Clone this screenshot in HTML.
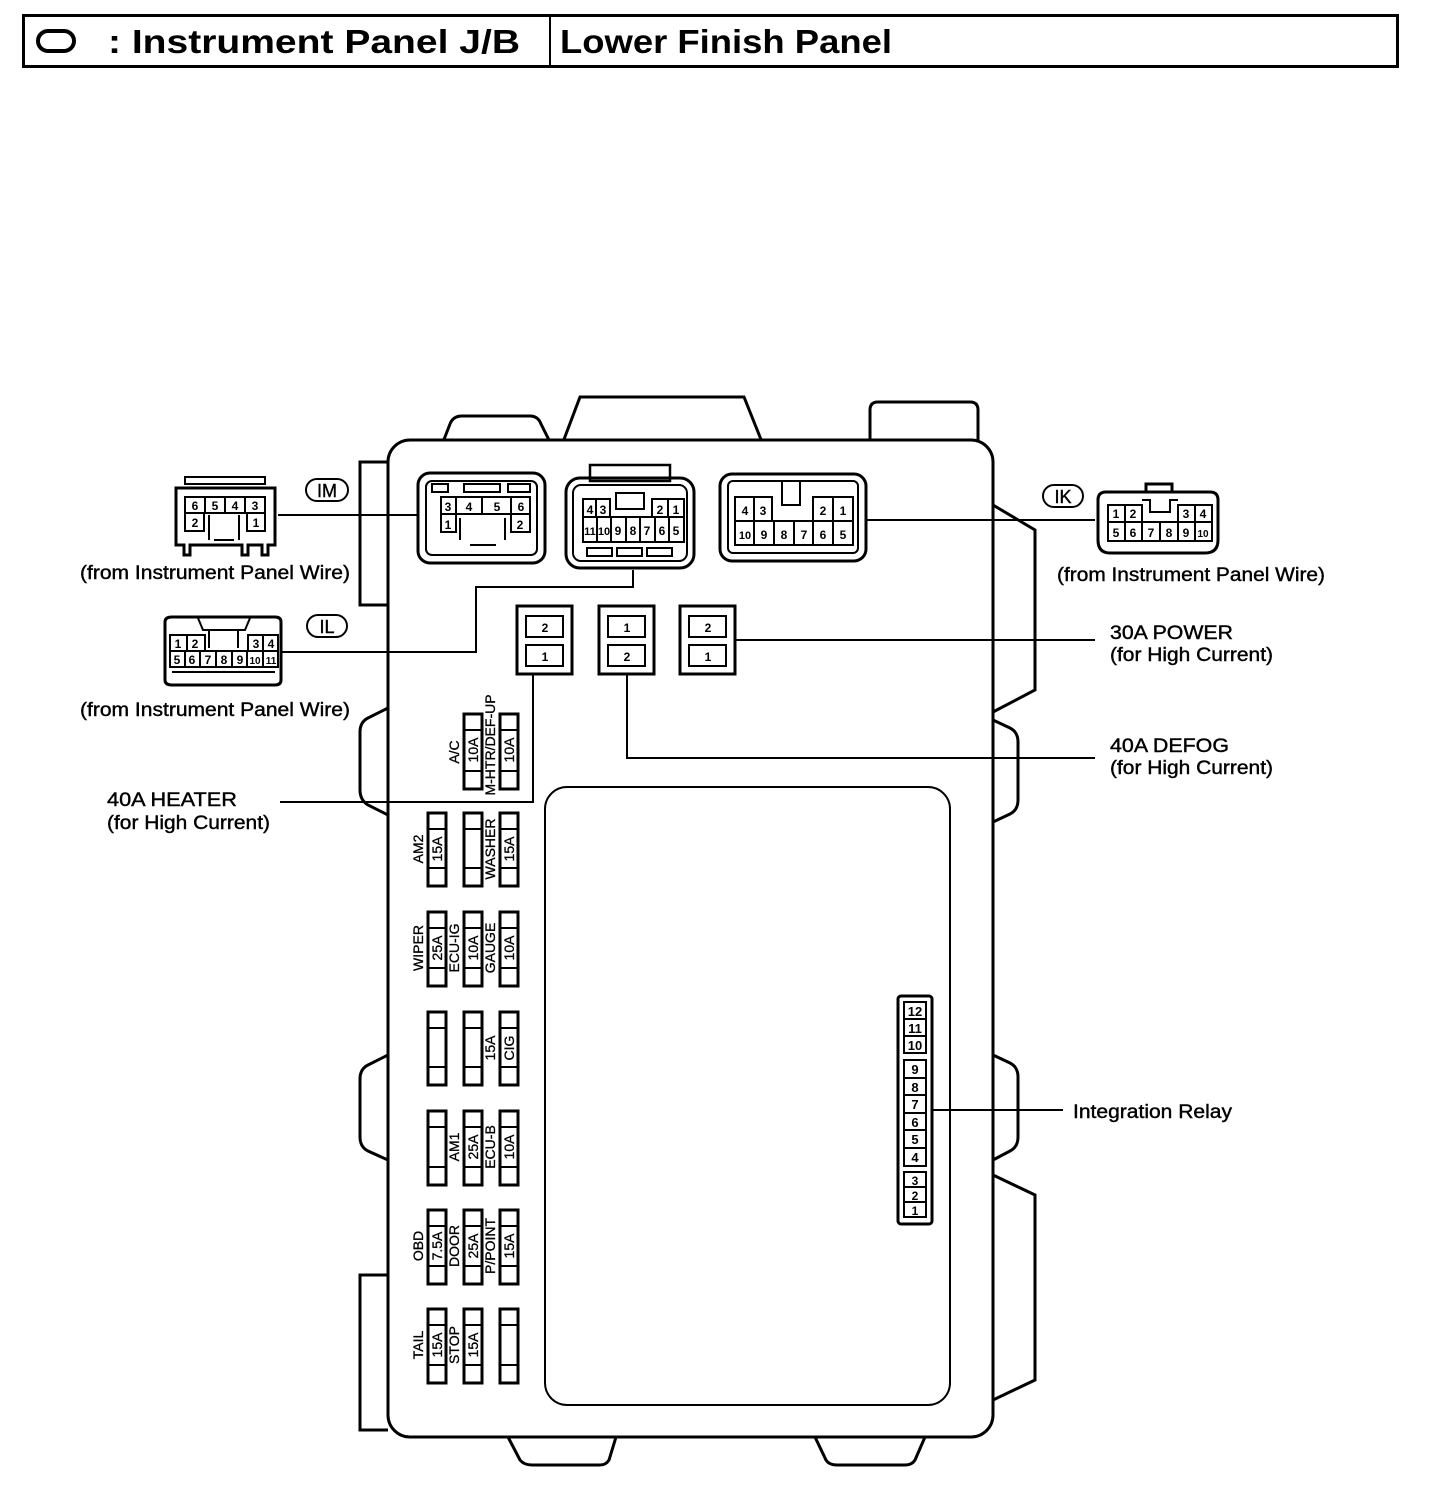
<!DOCTYPE html>
<html><head><meta charset="utf-8"><style>
html,body{margin:0;padding:0;background:#fff;}
svg{display:block;}
text{font-family:"Liberation Sans",Arial,sans-serif;fill:#000;}
.s{fill:none;stroke:#000;stroke-width:2;}
.t{fill:none;stroke:#000;stroke-width:3;}
.f{fill:#fff;stroke:#000;stroke-width:3;}
.p{font-size:12px;font-weight:bold;text-anchor:middle;}
.fl{font-size:14px;text-anchor:middle;stroke:#000;stroke-width:0.3;}
.lb{font-size:19px;stroke:#000;stroke-width:0.4;}
</style></head><body>
<svg width="1440" height="1488" viewBox="0 0 1440 1488" xmlns="http://www.w3.org/2000/svg">
<!-- header -->
<rect x="23.5" y="15.5" width="1374" height="51" class="s" style="stroke-width:3"/>
<line x1="550" y1="16" x2="550" y2="66" stroke="#000" stroke-width="2"/>
<rect x="38" y="31" width="36" height="20" rx="10" class="s" style="stroke-width:4"/>
<text x="108" y="53" style="font-size:33px;font-weight:bold" textLength="412" lengthAdjust="spacingAndGlyphs">: Instrument Panel J/B</text>
<text x="560" y="53" style="font-size:33px;font-weight:bold" textLength="332" lengthAdjust="spacingAndGlyphs">Lower Finish Panel</text>

<!-- body side brackets / tabs -->
<path d="M388 462 H360 V605 H388" class="t"/>
<path d="M388 708 L368 718 Q360 722 360 732 V790 Q360 800 368 805 L388 815" class="t"/>
<path d="M388 1055 L368 1065 Q360 1069 360 1079 V1137 Q360 1147 368 1151 L388 1160" class="t"/>
<path d="M388 1275 H360 V1430 H388" class="t"/>
<path d="M993 505 L1035 530 V690 L993 712" class="t"/>
<path d="M993 720 L1010 728 Q1018 732 1018 742 V800 Q1018 810 1010 814 L993 822" class="t"/>
<path d="M993 1055 L1010 1063 Q1018 1067 1018 1077 V1137 Q1018 1147 1010 1151 L993 1160" class="t"/>
<path d="M993 1175 L1035 1195 V1380 L993 1400" class="t"/>
<!-- top tabs -->
<path d="M443 442 L450 424 Q453 416 462 416 H530 Q538 416 541 424 L550 442" class="t"/>
<path d="M563 442 L580 397 H744 L762 442" class="t"/>
<path d="M870 442 V410 Q870 402 878 402 H970 Q978 402 978 410 V442" class="t"/>
<!-- bottom tabs -->
<path d="M508 1437 L520 1460 Q524 1465 532 1465 H600 Q606 1465 609 1460 L616 1437" class="t"/>
<path d="M815 1437 L826 1460 Q829 1465 837 1465 H905 Q912 1465 915 1460 L925 1437" class="t"/>
<!-- body -->
<rect x="388" y="440" width="605" height="997" rx="22" class="f"/>
<!-- inner panel -->
<rect x="545" y="787" width="405" height="618" rx="22" class="s"/>

<!-- IM connector (board) -->
<rect x="418" y="473" width="127" height="90" rx="12" class="t"/>
<rect x="426" y="481" width="111" height="74" rx="6" class="s"/>
<rect x="432" y="484" width="16" height="8" class="s"/><rect x="464" y="484" width="36" height="8" class="s"/><rect x="508" y="484" width="22" height="8" class="s"/>
<rect x="441" y="497" width="89" height="17" class="s"/>
<line x1="456" y1="497" x2="456" y2="514" stroke="#000" stroke-width="2"/><line x1="482" y1="497" x2="482" y2="514" stroke="#000" stroke-width="2"/><line x1="511" y1="497" x2="511" y2="514" stroke="#000" stroke-width="2"/>
<rect x="441" y="514" width="15" height="18" class="s"/><rect x="511" y="514" width="19" height="18" class="s"/>
<path d="M460 518 V540 M505 518 V540 M470 545 H496" class="s"/>
<text x="448" y="511" class="p">3</text><text x="469" y="511" class="p">4</text><text x="497" y="511" class="p">5</text><text x="521" y="511" class="p">6</text>
<text x="448" y="529" class="p">1</text><text x="520" y="529" class="p">2</text>

<!-- middle connector -->
<rect x="590" y="465" width="80" height="16" class="s" style="stroke-width:2.5"/>
<rect x="566" y="478" width="128" height="90" rx="14" class="t"/>
<rect x="573" y="485" width="114" height="76" rx="8" class="s"/>
<rect x="616" y="493" width="28" height="16" class="s"/>
<rect x="583" y="499" width="27" height="18" class="s"/><line x1="596" y1="499" x2="596" y2="517" stroke="#000" stroke-width="2"/>
<rect x="652" y="499" width="32" height="18" class="s"/><line x1="668" y1="499" x2="668" y2="517" stroke="#000" stroke-width="2"/>
<rect x="583" y="517" width="101" height="25" class="s"/>
<g stroke="#000" stroke-width="2"><line x1="597" y1="517" x2="597" y2="542"/><line x1="611" y1="517" x2="611" y2="542"/><line x1="626" y1="517" x2="626" y2="542"/><line x1="640" y1="517" x2="640" y2="542"/><line x1="655" y1="517" x2="655" y2="542"/><line x1="669" y1="517" x2="669" y2="542"/></g>
<rect x="587" y="548" width="25" height="8" class="s"/><rect x="617" y="548" width="25" height="8" class="s"/><rect x="647" y="548" width="25" height="8" class="s"/>
<text x="590" y="514" class="p">4</text><text x="603" y="514" class="p">3</text><text x="660" y="514" class="p">2</text><text x="676" y="514" class="p">1</text>
<text x="590" y="535" class="p" style="font-size:11px">11</text><text x="604" y="535" class="p" style="font-size:11px">10</text><text x="618" y="535" class="p">9</text><text x="633" y="535" class="p">8</text><text x="647" y="535" class="p">7</text><text x="662" y="535" class="p">6</text><text x="676" y="535" class="p">5</text>

<!-- right board connector -->
<rect x="720" y="474" width="146" height="87" rx="12" class="t"/>
<rect x="728" y="481" width="130" height="72" rx="5" class="s"/>
<path d="M782 482 V505 H800 V482" class="s"/>
<rect x="735" y="497" width="37" height="24" class="s"/><line x1="754" y1="497" x2="754" y2="521" stroke="#000" stroke-width="2"/>
<rect x="813" y="497" width="40" height="24" class="s"/><line x1="833" y1="497" x2="833" y2="521" stroke="#000" stroke-width="2"/>
<rect x="735" y="521" width="118" height="24" class="s"/>
<g stroke="#000" stroke-width="2"><line x1="754" y1="521" x2="754" y2="545"/><line x1="774" y1="521" x2="774" y2="545"/><line x1="794" y1="521" x2="794" y2="545"/><line x1="813" y1="521" x2="813" y2="545"/><line x1="833" y1="521" x2="833" y2="545"/></g>
<text x="745" y="515" class="p">4</text><text x="763" y="515" class="p">3</text><text x="823" y="515" class="p">2</text><text x="843" y="515" class="p">1</text>
<text x="745" y="539" class="p" style="font-size:11px">10</text><text x="764" y="539" class="p">9</text><text x="784" y="539" class="p">8</text><text x="804" y="539" class="p">7</text><text x="823" y="539" class="p">6</text><text x="843" y="539" class="p">5</text>

<!-- relays -->
<g>
<rect x="517" y="606" width="55" height="68" class="t"/><rect x="526" y="616" width="37" height="21" class="s"/><rect x="526" y="645" width="37" height="21" class="s"/>
<text x="545" y="632" class="p">2</text><text x="545" y="661" class="p">1</text>
<rect x="599" y="606" width="55" height="68" class="t"/><rect x="608" y="616" width="37" height="21" class="s"/><rect x="608" y="645" width="37" height="21" class="s"/>
<text x="627" y="632" class="p">1</text><text x="627" y="661" class="p">2</text>
<rect x="680" y="606" width="55" height="68" class="t"/><rect x="689" y="616" width="37" height="21" class="s"/><rect x="689" y="645" width="37" height="21" class="s"/>
<text x="708" y="632" class="p">2</text><text x="708" y="661" class="p">1</text>
</g>

<!-- leader lines -->
<g stroke="#000" stroke-width="2" fill="none">
<path d="M278 515 H418"/>
<path d="M633 570 V587 H476 V652 H282"/>
<path d="M866 520 H1095"/>
<path d="M735 640 H1095"/>
<path d="M627 675 V758 H1095"/>
<path d="M533 675 V802 H280"/>
<path d="M932 1110 H1063"/>
</g>

<!-- fuses -->
<g id="fuses">
<rect x="464" y="714" width="18" height="75" class="s" style="stroke-width:3"/><path d="M464 730 H482 M464 771 H482" class="s"/><text transform="translate(478,750) rotate(-90)" class="fl">10A</text>
<rect x="500" y="714" width="18" height="75" class="s" style="stroke-width:3"/><path d="M500 730 H518 M500 771 H518" class="s"/><text transform="translate(514,750) rotate(-90)" class="fl">10A</text>
<text transform="translate(459,752) rotate(-90)" class="fl">A/C</text>
<text transform="translate(495,745) rotate(-90)" class="fl">M-HTR/DEF-UP</text>
<rect x="428" y="813" width="18" height="73" class="s" style="stroke-width:3"/><path d="M428 829 H446 M428 868 H446" class="s"/><text transform="translate(442,849) rotate(-90)" class="fl">15A</text>
<text transform="translate(423,849) rotate(-90)" class="fl">AM2</text>
<rect x="464" y="813" width="18" height="73" class="s" style="stroke-width:3"/><path d="M464 829 H482 M464 868 H482" class="s"/>
<rect x="500" y="813" width="18" height="73" class="s" style="stroke-width:3"/><path d="M500 829 H518 M500 868 H518" class="s"/><text transform="translate(514,849) rotate(-90)" class="fl">15A</text>
<text transform="translate(495,849) rotate(-90)" class="fl">WASHER</text>
<rect x="428" y="912" width="18" height="74" class="s" style="stroke-width:3"/><path d="M428 928 H446 M428 968 H446" class="s"/><text transform="translate(442,948) rotate(-90)" class="fl">25A</text>
<text transform="translate(423,948) rotate(-90)" class="fl">WIPER</text>
<rect x="464" y="912" width="18" height="74" class="s" style="stroke-width:3"/><path d="M464 928 H482 M464 968 H482" class="s"/><text transform="translate(478,948) rotate(-90)" class="fl">10A</text>
<text transform="translate(459,948) rotate(-90)" class="fl">ECU-IG</text>
<rect x="500" y="912" width="18" height="74" class="s" style="stroke-width:3"/><path d="M500 928 H518 M500 968 H518" class="s"/><text transform="translate(514,948) rotate(-90)" class="fl">10A</text>
<text transform="translate(495,948) rotate(-90)" class="fl">GAUGE</text>
<rect x="428" y="1012" width="18" height="73" class="s" style="stroke-width:3"/><path d="M428 1028 H446 M428 1067 H446" class="s"/>
<rect x="464" y="1012" width="18" height="73" class="s" style="stroke-width:3"/><path d="M464 1028 H482 M464 1067 H482" class="s"/>
<rect x="500" y="1012" width="18" height="73" class="s" style="stroke-width:3"/><path d="M500 1028 H518 M500 1067 H518" class="s"/><text transform="translate(514,1048) rotate(-90)" class="fl">CIG</text>
<text transform="translate(495,1048) rotate(-90)" class="fl">15A</text>
<rect x="428" y="1111" width="18" height="74" class="s" style="stroke-width:3"/><path d="M428 1127 H446 M428 1167 H446" class="s"/>
<rect x="464" y="1111" width="18" height="74" class="s" style="stroke-width:3"/><path d="M464 1127 H482 M464 1167 H482" class="s"/><text transform="translate(478,1147) rotate(-90)" class="fl">25A</text>
<text transform="translate(459,1147) rotate(-90)" class="fl">AM1</text>
<rect x="500" y="1111" width="18" height="74" class="s" style="stroke-width:3"/><path d="M500 1127 H518 M500 1167 H518" class="s"/><text transform="translate(514,1147) rotate(-90)" class="fl">10A</text>
<text transform="translate(495,1147) rotate(-90)" class="fl">ECU-B</text>
<rect x="428" y="1210" width="18" height="74" class="s" style="stroke-width:3"/><path d="M428 1226 H446 M428 1266 H446" class="s"/><text transform="translate(442,1246) rotate(-90)" class="fl">7.5A</text>
<text transform="translate(423,1246) rotate(-90)" class="fl">OBD</text>
<rect x="464" y="1210" width="18" height="74" class="s" style="stroke-width:3"/><path d="M464 1226 H482 M464 1266 H482" class="s"/><text transform="translate(478,1246) rotate(-90)" class="fl">25A</text>
<text transform="translate(459,1246) rotate(-90)" class="fl">DOOR</text>
<rect x="500" y="1210" width="18" height="74" class="s" style="stroke-width:3"/><path d="M500 1226 H518 M500 1266 H518" class="s"/><text transform="translate(514,1246) rotate(-90)" class="fl">15A</text>
<text transform="translate(495,1246) rotate(-90)" class="fl">P/POINT</text>
<rect x="428" y="1309" width="18" height="74" class="s" style="stroke-width:3"/><path d="M428 1325 H446 M428 1365 H446" class="s"/><text transform="translate(442,1345) rotate(-90)" class="fl">15A</text>
<text transform="translate(423,1345) rotate(-90)" class="fl">TAIL</text>
<rect x="464" y="1309" width="18" height="74" class="s" style="stroke-width:3"/><path d="M464 1325 H482 M464 1365 H482" class="s"/><text transform="translate(478,1345) rotate(-90)" class="fl">15A</text>
<text transform="translate(459,1345) rotate(-90)" class="fl">STOP</text>
<rect x="500" y="1309" width="18" height="74" class="s" style="stroke-width:3"/><path d="M500 1325 H518 M500 1365 H518" class="s"/>
</g>

<!-- integration relay connector -->
<rect x="898" y="996" width="34" height="228" rx="3" class="t"/>
<rect x="904" y="1002" width="22" height="51" class="s"/>
<rect x="904" y="1060" width="22" height="106" class="s"/>
<rect x="904" y="1172" width="22" height="45" class="s"/>
<g stroke="#000" stroke-width="2"><line x1="904" y1="1019" x2="926" y2="1019"/><line x1="904" y1="1036" x2="926" y2="1036"/>
<line x1="904" y1="1078" x2="926" y2="1078"/><line x1="904" y1="1095" x2="926" y2="1095"/><line x1="904" y1="1113" x2="926" y2="1113"/><line x1="904" y1="1130" x2="926" y2="1130"/><line x1="904" y1="1148" x2="926" y2="1148"/>
<line x1="904" y1="1187" x2="926" y2="1187"/><line x1="904" y1="1202" x2="926" y2="1202"/></g>
<g>
<text x="915" y="1016" class="p" style="font-size:13px">12</text><text x="915" y="1033" class="p" style="font-size:13px">11</text><text x="915" y="1050" class="p" style="font-size:13px">10</text>
<text x="915" y="1074" class="p" style="font-size:13px">9</text><text x="915" y="1092" class="p" style="font-size:13px">8</text><text x="915" y="1109" class="p" style="font-size:13px">7</text><text x="915" y="1127" class="p" style="font-size:13px">6</text><text x="915" y="1144" class="p" style="font-size:13px">5</text><text x="915" y="1162" class="p" style="font-size:13px">4</text>
<text x="915" y="1185" class="p">3</text><text x="915" y="1200" class="p">2</text><text x="915" y="1215" class="p">1</text>
</g>

<!-- IM external plug -->
<rect x="185" y="477" width="80" height="7" class="s"/>
<path d="M176 488 H275 V545 H268 V555 H262 V545 H248 V555 H242 V545 H190 V555 H184 V545 H176 Z" class="t"/>
<rect x="185" y="497" width="80" height="16" class="s"/>
<g stroke="#000" stroke-width="2"><line x1="205" y1="497" x2="205" y2="513"/><line x1="225" y1="497" x2="225" y2="513"/><line x1="245" y1="497" x2="245" y2="513"/></g>
<rect x="185" y="513" width="19" height="18" class="s"/><rect x="247" y="513" width="18" height="18" class="s"/>
<path d="M209 515 V540 M239 515 V540 M214 540 H234" class="s"/>
<text x="195" y="510" class="p">6</text><text x="215" y="510" class="p">5</text><text x="235" y="510" class="p">4</text><text x="255" y="510" class="p">3</text>
<text x="195" y="527" class="p">2</text><text x="256" y="527" class="p">1</text>
<rect x="306" y="479" width="42" height="22" rx="11" class="s"/><text x="327" y="497" class="lb" style="text-anchor:middle;font-size:18px">IM</text>
<text x="80" y="579" class="lb" textLength="270" lengthAdjust="spacingAndGlyphs">(from Instrument Panel Wire)</text>

<!-- IL external plug -->
<path d="M165 622 Q165 617 172 617 H275 Q281 617 281 622 V680 Q281 685 275 685 H172 Q165 685 165 680 Z" class="t"/>
<path d="M198 618 L203 630 H245 L250 618" class="s"/>
<rect x="170" y="635" width="35" height="16" class="s"/><line x1="187" y1="635" x2="187" y2="651" stroke="#000" stroke-width="2"/>
<rect x="248" y="635" width="30" height="16" class="s"/><line x1="263" y1="635" x2="263" y2="651" stroke="#000" stroke-width="2"/>
<path d="M209 630 V648 M238 630 V648" class="s"/>
<rect x="170" y="651" width="108" height="16" class="s"/>
<g stroke="#000" stroke-width="2"><line x1="185" y1="651" x2="185" y2="667"/><line x1="200" y1="651" x2="200" y2="667"/><line x1="216" y1="651" x2="216" y2="667"/><line x1="232" y1="651" x2="232" y2="667"/><line x1="247" y1="651" x2="247" y2="667"/><line x1="263" y1="651" x2="263" y2="667"/></g>
<path d="M172 672 H275" class="s"/>
<text x="178" y="648" class="p">1</text><text x="195" y="648" class="p">2</text><text x="256" y="648" class="p">3</text><text x="271" y="648" class="p">4</text>
<text x="177" y="664" class="p">5</text><text x="192" y="664" class="p">6</text><text x="208" y="664" class="p">7</text><text x="224" y="664" class="p">8</text><text x="240" y="664" class="p">9</text><text x="255" y="664" class="p" style="font-size:10px">10</text><text x="271" y="664" class="p" style="font-size:10px">11</text>
<rect x="307" y="615" width="40" height="22" rx="11" class="s"/><text x="327" y="633" class="lb" style="text-anchor:middle;font-size:18px">IL</text>
<text x="80" y="716" class="lb" textLength="270" lengthAdjust="spacingAndGlyphs">(from Instrument Panel Wire)</text>

<!-- IK external plug -->
<path d="M1098 500 Q1098 492 1106 492 H1210 Q1218 492 1218 500 V540 Q1218 553 1205 553 H1110 Q1098 553 1098 540 Z" class="t"/>
<path d="M1146 492 V484 H1172 V492" class="s" style="stroke-width:3"/>
<rect x="1108" y="505" width="34" height="17" class="s"/><line x1="1125" y1="505" x2="1125" y2="522" stroke="#000" stroke-width="2"/>
<rect x="1178" y="505" width="34" height="17" class="s"/><line x1="1195" y1="505" x2="1195" y2="522" stroke="#000" stroke-width="2"/>
<path d="M1142 500 H1150 V512 H1170 V500 H1178" class="s"/>
<rect x="1108" y="522" width="104" height="19" class="s"/>
<g stroke="#000" stroke-width="2"><line x1="1125" y1="522" x2="1125" y2="541"/><line x1="1142" y1="522" x2="1142" y2="541"/><line x1="1160" y1="522" x2="1160" y2="541"/><line x1="1178" y1="522" x2="1178" y2="541"/><line x1="1195" y1="522" x2="1195" y2="541"/></g>
<text x="1116" y="518" class="p">1</text><text x="1133" y="518" class="p">2</text><text x="1186" y="518" class="p">3</text><text x="1203" y="518" class="p">4</text>
<text x="1116" y="537" class="p">5</text><text x="1133" y="537" class="p">6</text><text x="1151" y="537" class="p">7</text><text x="1169" y="537" class="p">8</text><text x="1186" y="537" class="p">9</text><text x="1203" y="537" class="p" style="font-size:10px">10</text>
<rect x="1043" y="485" width="40" height="22" rx="11" class="s"/><text x="1063" y="503" class="lb" style="text-anchor:middle;font-size:18px">IK</text>
<text x="1057" y="581" class="lb" textLength="268" lengthAdjust="spacingAndGlyphs">(from Instrument Panel Wire)</text>

<!-- labels -->
<text x="1110" y="639" class="lb" textLength="123" lengthAdjust="spacingAndGlyphs">30A POWER</text>
<text x="1110" y="661" class="lb" textLength="163" lengthAdjust="spacingAndGlyphs">(for High Current)</text>
<text x="1110" y="752" class="lb" textLength="119" lengthAdjust="spacingAndGlyphs">40A DEFOG</text>
<text x="1110" y="774" class="lb" textLength="163" lengthAdjust="spacingAndGlyphs">(for High Current)</text>
<text x="107" y="806" class="lb" textLength="130" lengthAdjust="spacingAndGlyphs">40A HEATER</text>
<text x="107" y="829" class="lb" textLength="163" lengthAdjust="spacingAndGlyphs">(for High Current)</text>
<text x="1073" y="1118" class="lb" textLength="159" lengthAdjust="spacingAndGlyphs">Integration Relay</text>
</svg>
</body></html>
